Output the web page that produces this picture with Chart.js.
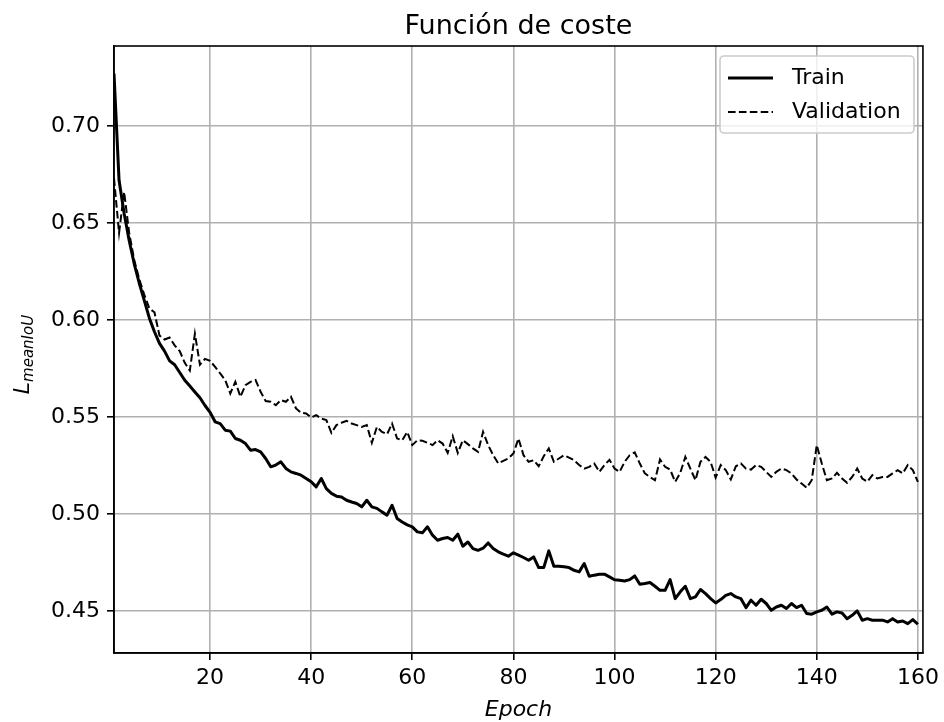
<!DOCTYPE html>
<html>
<head>
<meta charset="utf-8">
<title>Función de coste</title>
<script src="https://cdn.jsdelivr.net/npm/chart.js@4/dist/chart.umd.min.js"></script>
<style>
  html, body { margin: 0; padding: 0; background: #fff; }
  canvas { display: block; }
</style>
</head>
<body>
<canvas id="lossChart" width="944" height="722"></canvas>
<script>
// epochs 1..160 on the x axis
const epochs = Array.from({ length: 160 }, (_, i) => i + 1);

const trainLoss = [
  0.727, 0.672, 0.655, 0.641, 0.629, 0.619, 0.610, 0.601, 0.594, 0.588,
  0.584, 0.579, 0.577, 0.573, 0.569, 0.566, 0.563, 0.560, 0.556, 0.5525,
  0.5476, 0.5467, 0.5433, 0.5428, 0.5390, 0.5381, 0.5364, 0.5330, 0.5333, 0.5321,
  0.5287, 0.5244, 0.5253, 0.5270, 0.5236, 0.5218, 0.5210, 0.5201, 0.5184, 0.5167,
  0.5141, 0.5184, 0.5132, 0.5107, 0.5093, 0.5089, 0.5072, 0.5063, 0.5055, 0.5038,
  0.5072, 0.5038, 0.5030, 0.5012, 0.4995, 0.5046, 0.4978, 0.4960, 0.4945, 0.4935,
  0.4909, 0.4904, 0.4935, 0.4892, 0.4866, 0.4875, 0.4880, 0.4866, 0.4897, 0.4835,
  0.4857, 0.4823, 0.4814, 0.4825, 0.4852, 0.4823, 0.4806, 0.4794, 0.4784, 0.4801,
  0.4789, 0.4777, 0.4763, 0.4780, 0.4725, 0.4725, 0.4811, 0.4732, 0.4732, 0.4729,
  0.4725, 0.4711, 0.4703, 0.4746, 0.4680, 0.4686, 0.4691, 0.4691, 0.4677, 0.4662,
  0.4660, 0.4656, 0.4663, 0.4682, 0.4639, 0.4643, 0.4648, 0.4629, 0.4608, 0.4608,
  0.4663, 0.4565, 0.4600, 0.4629, 0.4565, 0.4574, 0.4612, 0.4591, 0.4565, 0.4543,
  0.4560, 0.4582, 0.4591, 0.4574, 0.4565, 0.4519, 0.4557, 0.4531, 0.4562, 0.4540,
  0.4505, 0.4522, 0.4531, 0.4514, 0.4540, 0.4519, 0.4531, 0.4488, 0.4485, 0.4497,
  0.4505, 0.4522, 0.4485, 0.4497, 0.4491, 0.4462, 0.4479, 0.4502, 0.4454, 0.4462,
  0.4454, 0.4454, 0.4454, 0.4445, 0.4462, 0.4445, 0.4450, 0.4436, 0.4457, 0.4433
];

const valLoss = [
  0.673, 0.645, 0.666, 0.645, 0.631, 0.621, 0.613, 0.606, 0.604, 0.592,
  0.590, 0.591, 0.587, 0.584, 0.578, 0.574, 0.593, 0.577, 0.580, 0.579,
  0.5759, 0.5725, 0.5691, 0.5622, 0.5682, 0.5605, 0.5665, 0.5682, 0.5691, 0.5631,
  0.5583, 0.5579, 0.5562, 0.5588, 0.5579, 0.5605, 0.5545, 0.5522, 0.5519, 0.5498,
  0.5510, 0.5493, 0.5485, 0.5419, 0.5459, 0.5471, 0.5481, 0.5467, 0.5459, 0.5450,
  0.5459, 0.5368, 0.5450, 0.5424, 0.5412, 0.5467, 0.5390, 0.5381, 0.5424, 0.5356,
  0.5381, 0.5378, 0.5368, 0.5356, 0.5381, 0.5364, 0.5316, 0.5402, 0.5316, 0.5381,
  0.5361, 0.5339, 0.5321, 0.5424, 0.5356, 0.5304, 0.5261, 0.5275, 0.5287, 0.5313,
  0.5390, 0.5304, 0.5270, 0.5278, 0.5247, 0.5299, 0.5339, 0.5270, 0.5287, 0.5304,
  0.5292, 0.5278, 0.5253, 0.5235, 0.5244, 0.5261, 0.5218, 0.5253, 0.5280, 0.5235,
  0.5218, 0.5270, 0.5304, 0.5318, 0.5261, 0.5210, 0.5192, 0.5175, 0.5282, 0.5244,
  0.5230, 0.5167, 0.5213, 0.5295, 0.5235, 0.5175, 0.5270, 0.5295, 0.5270, 0.5189,
  0.5253, 0.5227, 0.5179, 0.5247, 0.5261, 0.5235, 0.5230, 0.5253, 0.5244, 0.5218,
  0.5192, 0.5218, 0.5235, 0.5227, 0.5210, 0.5179, 0.5158, 0.5136, 0.5175, 0.5356,
  0.5261, 0.5175, 0.5184, 0.5213, 0.5184, 0.5162, 0.5192, 0.5235, 0.5184, 0.5167,
  0.5201, 0.5184, 0.5192, 0.5192, 0.5210, 0.5227, 0.5210, 0.5253, 0.5227, 0.5167
];

const seriesNames = ["Train", "Validation"];
const xTicks = [20, 40, 60, 80, 100, 120, 140, 160];
const yTicks = [0.45, 0.50, 0.55, 0.60, 0.65, 0.70];

const chartTitle = "Función de coste";
const xLabel = "Epoch";
const yLabelMain = "L";
const yLabelSub = "meanIoU";

const FONT = '"DejaVu Sans", sans-serif';
const GRID = "#b0b0b0";
const dashPattern = [7.6, 3.3];

// spines, title, axis labels and the boxed legend, matplotlib style
const decorations = {
  id: "decorations",
  afterDraw(chart) {
    const { ctx, chartArea: a } = chart;
    ctx.save();

    ctx.strokeStyle = "#000";
    ctx.lineWidth = 1.6;
    ctx.strokeRect(a.left, a.top, a.right - a.left, a.bottom - a.top);

    ctx.fillStyle = "#000";
    ctx.textAlign = "center";
    ctx.textBaseline = "alphabetic";
    ctx.font = "27px " + FONT;
    ctx.fillText(chartTitle, (a.left + a.right) / 2, a.top - 12);

    ctx.font = "italic 22px " + FONT;
    ctx.textBaseline = "middle";
    ctx.fillText(xLabel, (a.left + a.right) / 2, 710);

    // y label: L with subscript, rotated
    ctx.save();
    ctx.translate(29, (a.top + a.bottom) / 2 + 5);
    ctx.rotate(-Math.PI / 2);
    ctx.textAlign = "left";
    ctx.textBaseline = "alphabetic";
    ctx.font = "italic 22px " + FONT;
    const wL = ctx.measureText(yLabelMain).width;
    ctx.font = "italic 15px " + FONT;
    const wS = ctx.measureText(yLabelSub).width;
    const x0 = -(wL + wS) / 2;
    ctx.font = "italic 22px " + FONT;
    ctx.fillText(yLabelMain, x0, 0);
    ctx.font = "italic 15px " + FONT;
    ctx.fillText(yLabelSub, x0 + wL, 4);
    ctx.restore();

    // legend box
    const bx = 720, by = 56, bw = 194, bh = 77, r = 4;
    ctx.beginPath();
    ctx.roundRect(bx, by, bw, bh, r);
    ctx.fillStyle = "rgba(255,255,255,0.8)";
    ctx.fill();
    ctx.strokeStyle = "#cccccc";
    ctx.lineWidth = 1.6;
    ctx.stroke();

    const rows = [78, 112];
    chart.data.datasets.forEach((ds, i) => {
      ctx.beginPath();
      ctx.setLineDash(ds.borderDash || []);
      ctx.lineWidth = ds.borderWidth;
      ctx.strokeStyle = ds.borderColor;
      ctx.moveTo(728, rows[i]);
      ctx.lineTo(773, rows[i]);
      ctx.stroke();
      ctx.setLineDash([]);
      ctx.fillStyle = "#000";
      ctx.font = "22px " + FONT;
      ctx.textAlign = "left";
      ctx.textBaseline = "middle";
      ctx.fillText(ds.label, 792, rows[i]);
    });

    ctx.restore();
  }
};

const ctx = document.getElementById("lossChart");

new Chart(ctx, {
  type: "line",
  data: {
    datasets: [
      {
        label: seriesNames[0],
        data: epochs.map((e, i) => ({ x: e, y: trainLoss[i] })),
        borderColor: "#000",
        borderWidth: 3,
        borderJoinStyle: "round",
        pointRadius: 0,
        fill: false,
        tension: 0
      },
      {
        label: seriesNames[1],
        data: epochs.map((e, i) => ({ x: e, y: valLoss[i] })),
        borderColor: "#000",
        borderWidth: 2,
        borderDash: dashPattern,
        pointRadius: 0,
        fill: false,
        tension: 0
      }
    ]
  },
  options: {
    responsive: false,
    animation: false,
    devicePixelRatio: 1,
    layout: { padding: { top: 46, right: 20, left: 0, bottom: 0 } },
    plugins: {
      legend: { display: false },
      title: { display: false },
      tooltip: { enabled: false }
    },
    scales: {
      x: {
        type: "linear",
        min: 1,
        max: 161,
        afterBuildTicks: (scale) => {
          scale.ticks = xTicks.map((v) => ({ value: v }));
        },
        afterFit: (scale) => {
          scale.height = 69;
        },
        ticks: {
          color: "#000",
          font: { family: FONT, size: 22 },
          padding: 5,
          maxRotation: 0,
          autoSkip: false
        },
        grid: {
          color: GRID,
          lineWidth: 1.6,
          tickColor: "#000",
          tickLength: 7
        },
        border: { color: "#000", width: 1.6 }
      },
      y: {
        min: 0.4285,
        max: 0.7412,
        afterBuildTicks: (scale) => {
          scale.ticks = yTicks.map((v) => ({ value: v }));
        },
        afterFit: (scale) => {
          scale.width = 114;
        },
        ticks: {
          color: "#000",
          font: { family: FONT, size: 22 },
          padding: 7,
          callback: (v) => v.toFixed(2)
        },
        grid: {
          color: GRID,
          lineWidth: 1.6,
          tickColor: "#000",
          tickLength: 7
        },
        border: { color: "#000", width: 1.6 }
      }
    }
  },
  plugins: [decorations]
});
</script>
</body>
</html>
